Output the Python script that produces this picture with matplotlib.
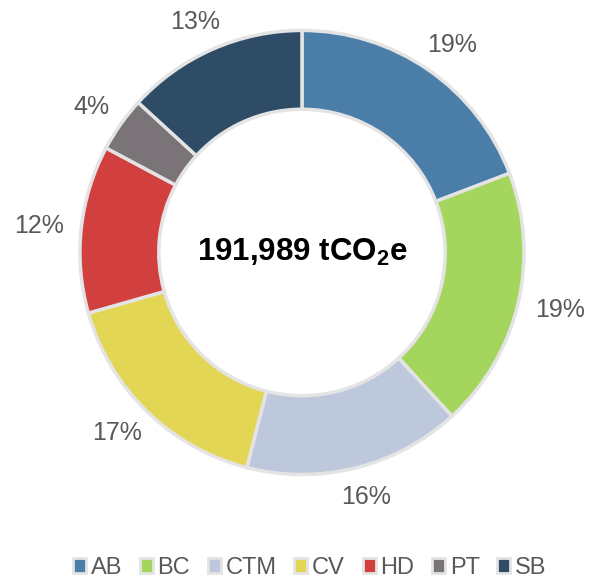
import numpy as np
import matplotlib.pyplot as plt
from matplotlib.patches import Patch

plt.rcParams['font.family'] = ['Liberation Sans', 'DejaVu Sans']
plt.rcParams['mathtext.fontset'] = 'custom'
plt.rcParams['mathtext.rm'] = 'Liberation Sans'
plt.rcParams['mathtext.bf'] = 'Liberation Sans:bold'

# emissions by site (tCO2e)
sites = ['AB', 'BC', 'CTM', 'CV', 'HD', 'PT', 'SB']
emissions = [36862, 36478, 30334, 31870, 23423, 7680, 25342]
colors = ['#4a7ea8', '#a4d65e', '#bdc8dc', '#e2d654', '#d13f3f', '#7a7478', '#2e4c66']
total_label = r'191,989 tCO$_{\mathbf{2}}$e'

fig = plt.figure(figsize=(5.9, 5.8), dpi=100)
ax = fig.add_axes([0, 0, 1, 1])

wedges, texts, autotexts = ax.pie(
    emissions, colors=colors, startangle=90, counterclock=False,
    radius=1.0, autopct=lambda p: f'{p:.0f}%', pctdistance=1.1,
    wedgeprops=dict(width=0.355, edgecolor='#e4e4e4', linewidth=2.5),
    textprops=dict(fontsize=18, color='#595959'))

ax.text(0, 0, total_label, ha='center', va='center', fontsize=22.5,
        fontweight='bold', color='black')

ax.set_xlim(-1.360, 1.297)
ax.set_ylim(-1.475, 1.137)
ax.set_aspect('equal')
ax.axis('off')

# push each label outward so its box sits just outside the ring
fig.canvas.draw()
px = 222.0
r0 = 1.08
for w, t in zip(wedges, autotexts):
    a = np.deg2rad((w.theta1 + w.theta2) / 2)
    bb = t.get_window_extent()
    dx = bb.width / 2 / px * np.cos(a)
    dy = bb.height / 2 / px * np.sin(a)
    t.set_position((r0 * np.cos(a) + dx, r0 * np.sin(a) + dy))

handles = [Patch(facecolor=c, edgecolor='#e4e4e4', linewidth=2) for c in colors]
fig.legend(handles, sites, loc='center', bbox_to_anchor=(0.525, 0.021),
           ncol=7, frameon=False, fontsize=17, handlelength=0.55,
           handleheight=0.55, handletextpad=0.2, columnspacing=0.75,
           labelcolor='#595959')

fig.savefig('out.png', dpi=100)
